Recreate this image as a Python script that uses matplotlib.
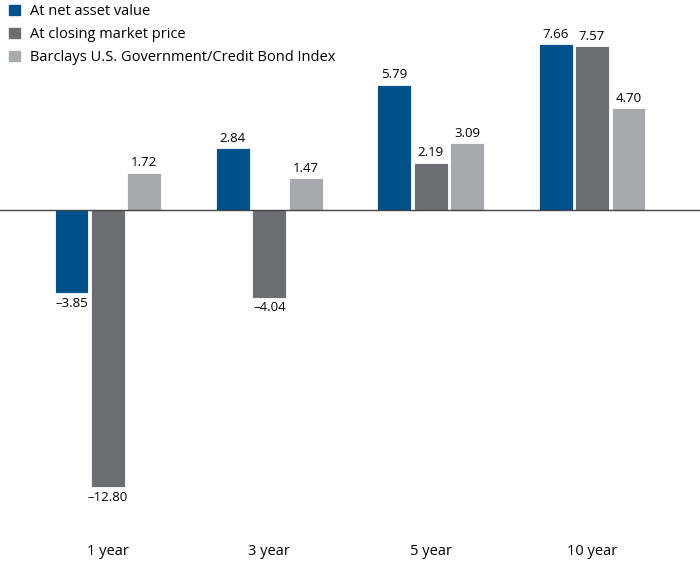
import matplotlib.pyplot as plt
import numpy as np
from matplotlib.patches import Patch

plt.rcParams['font.family'] = ['Open Sans', 'DejaVu Sans']

periods = ['1 year', '3 year', '5 year', '10 year']
series_names = ['At net asset value', 'At closing market price',
                'Barclays U.S. Government/Credit Bond Index']
nav = [-3.85, 2.84, 5.79, 7.66]
market = [-12.80, -4.04, 2.19, 7.57]
index = [1.72, 1.47, 3.09, 4.70]
colors = ['#00508a', '#6d6e71', '#a7a9ac']

fig = plt.figure(figsize=(7, 5.65), dpi=100)
ax = fig.add_axes([0, 0, 1, 1])

x = np.arange(len(periods))
width = 0.21
offset = 0.226
for i, (vals, c) in enumerate(zip([nav, market, index], colors)):
    pos = x + (i - 1) * offset
    ax.bar(pos, vals, width, color=c, edgecolor='white', linewidth=0.6)
    for p, v in zip(pos, vals):
        label = ('%.2f' % abs(v)) if v >= 0 else '\u2013%.2f' % abs(v)
        if v >= 0:
            ax.text(p, v + 0.15, label, ha='center', va='bottom', fontsize=9.5)
        else:
            ax.text(p, v - 0.15, label, ha='center', va='top', fontsize=9.5)

ax.axhline(0, color='#444444', linewidth=1)

for p, name in zip(x, periods):
    ax.text(p, -15.78, name, ha='center', va='center', fontsize=10.5)

ax.set_xlim(-0.669, 3.669)
ax.set_ylim(-16.38, 9.69)
ax.axis('off')

handles = [Patch(color=c) for c in colors]
fig.legend(handles, series_names, loc='upper left', bbox_to_anchor=(-0.006, 1.016),
           frameon=False, fontsize=10.5, handlelength=0.75, handleheight=0.75,
           handletextpad=0.7, labelspacing=0.55)

fig.savefig('out.png', dpi=100)
